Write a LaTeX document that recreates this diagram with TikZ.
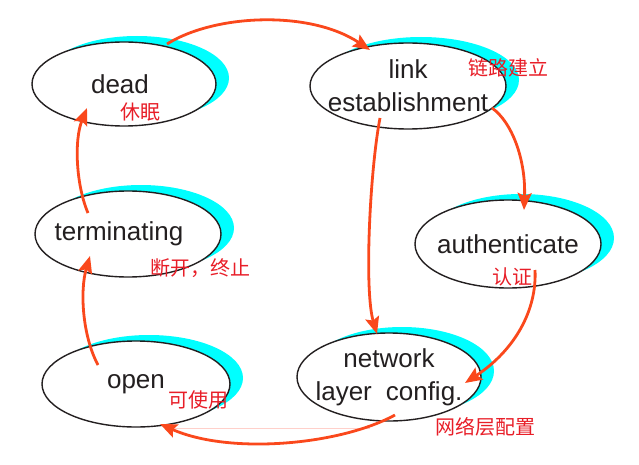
\documentclass[tikz,border=0pt]{standalone}
\usepackage{fontspec}
\setmainfont{Liberation Sans}
\newfontfamily\cjk{Noto Sans CJK SC}
\usetikzlibrary{shapes.geometric,shadows,arrows.meta}
\definecolor{arrowred}{RGB}{250,72,28}
\definecolor{shadowcyan}{RGB}{0,255,255}
\definecolor{labelred}{RGB}{232,30,40}
\definecolor{rim}{RGB}{35,31,32}
\definecolor{faintpink}{RGB}{255,208,202}
\newcommand\nowid[1]{\makebox[0pt]{#1}}
\begin{document}
\begin{tikzpicture}[x=1pt,y=-1pt]
\tikzstyle{phase}=[ellipse,draw=rim,line width=1.4pt,fill=white,inner sep=0pt,align=center,text=rim,font=\fontsize{26}{33}\selectfont,general shadow={fill=shadowcyan,shadow xshift=13pt,shadow yshift=6pt}]
\tikzstyle{trans}=[draw=arrowred,line width=2.8pt,-{Stealth[length=17pt,width=14pt,inset=3pt]}]
\tikzstyle{cn}=[text=labelred,font=\cjk\fontsize{20}{20}\selectfont,inner sep=0pt]
\useasboundingbox (0,0) rectangle (639,465);
\node[phase,minimum width=184pt,minimum height=84pt] (dead) at (124,84) {\nowid{\hspace{-8pt}dead}};
\node[phase,minimum width=196pt,minimum height=86pt] (link) at (408,86) {\nowid{link}\\\nowid{establishment}};
\node[phase,minimum width=186pt,minimum height=86pt] (term) at (128,234) {\nowid{\hspace{-18pt}terminating}};
\node[phase,minimum width=186pt,minimum height=88pt] (auth) at (508,244) {\nowid{authenticate}};
\node[phase,minimum width=188pt,minimum height=86pt] (open) at (136,384) {\nowid{open}};
\node[phase,minimum width=184pt,minimum height=88pt] (netcfg) at (389,377) {\nowid{network}\\\nowid{layer\hspace{14pt}config.}};
\coordinate (ghosta) at (165,428);
\coordinate (ghostb) at (370,428);
\draw[faintpink,line width=0.6pt] (ghosta) -- (ghostb);
\draw[trans] ([shift={(43,-40)}]dead.center) .. controls (215,14) and (310,10) .. ([shift={(-38,-36)}]link.center);
\draw[trans] ([shift={(-28,32)}]link.center) .. controls (370,170) and (364,290) .. ([shift={(-12,-43)}]netcfg.center);
\draw[trans] ([shift={(84,22)}]link.center) .. controls (512,122) and (526,160) .. ([shift={(16,-34)}]auth.center);
\draw[trans] ([shift={(27,26)}]auth.center) .. controls (537,310) and (515,350) .. ([shift={(76,6)}]netcfg.center);
\draw[trans] ([shift={(6,38)}]netcfg.center) .. controls (340,445) and (230,455) .. ([shift={(24,40)}]open.center);
\draw[trans] ([shift={(-38,-19)}]open.center) .. controls (82,335) and (80,290) .. ([shift={(-38,22)}]term.center);
\draw[trans] ([shift={(-40,-21)}]term.center) .. controls (76,185) and (74,140) .. ([shift={(-37,24)}]dead.center);
\node[cn] (lbdead) at (140,112) {休眠};
\node[cn] (lblink) at (508,68) {链路建立};
\node[cn] (lbterm) at (200,268) {断开，终止};
\node[cn] (lbauth) at (512,277) {认证};
\node[cn] (lbopen) at (198,400) {可使用};
\node[cn] (lbnet) at (485,427) {网络层配置};
\end{tikzpicture}
\end{document}
